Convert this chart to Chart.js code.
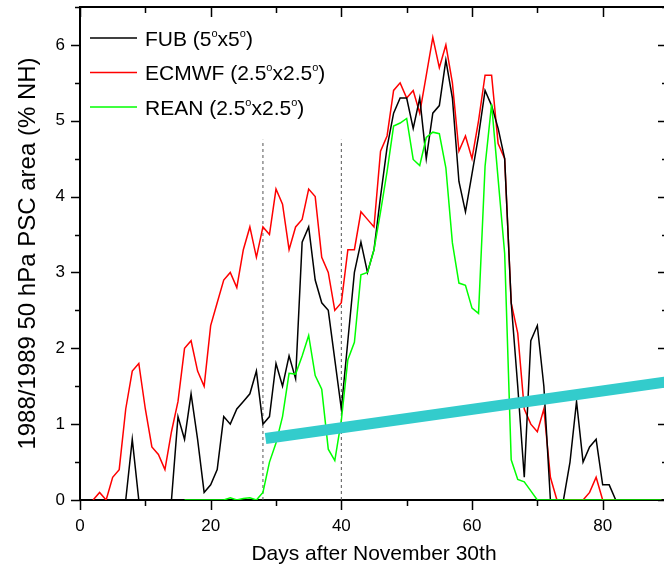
<!DOCTYPE html>
<html>
<head>
<meta charset="utf-8">
<title>1988/1989 PSC area</title>
<script src="https://cdn.jsdelivr.net/npm/chart.js@4.4.1/dist/chart.umd.min.js"></script>
<style>
  html, body { margin: 0; padding: 0; background: #fff; overflow: hidden; }
  #pscChart { display: block; }
</style>
</head>
<body>
<canvas id="pscChart" width="700" height="568"></canvas>
<script>
// days after November 30th
const days = [
  0, 1, 2, 3, 4, 5, 6, 7, 8, 9,
  10, 11, 12, 13, 14, 15, 16, 17, 18, 19,
  20, 21, 22, 23, 24, 25, 26, 27, 28, 29,
  30, 31, 32, 33, 34, 35, 36, 37, 38, 39,
  40, 41, 42, 43, 44, 45, 46, 47, 48, 49,
  50, 51, 52, 53, 54, 55, 56, 57, 58, 59,
  60, 61, 62, 63, 64, 65, 66, 67, 68, 69,
  70, 71, 72, 73, 74, 75, 76, 77, 78, 79,
  80, 81, 82, 83, 84, 85, 86, 87, 88, 89,
];

// PSC area, % NH
const fub = [
  null, null, null, null, null, null, null, 0, 0.8, 0,
  0, 0, 0, 0, 0, 1.1, 0.8, 1.4, 0.8, 0.1,
  0.2, 0.4, 1.1, 1.0, 1.2, 1.3, 1.4, 1.7, 1.0, 1.1,
  1.8, 1.5, 1.9, 1.6, 3.4, 3.6, 2.9, 2.6, 2.5, 1.85,
  1.2, 2.1, 3.0, 3.4, 3.0, 3.3, 4.0, 4.65, 5.1, 5.3,
  5.3, 4.9, 5.3, 4.5, 5.1, 5.2, 5.8, 5.3, 4.2, 3.8,
  4.3, 4.8, 5.4, 5.2, 4.9, 4.5, 2.6, 1.5, 0.3, 2.1,
  2.3, 1.5, 0, 0, 0, 0.5, 1.3, 0.5, 0.7, 0.8,
  0.2, 0.2, 0, 0, 0, 0, 0, 0, 0, 0,
];

const ecmwf = [
  null, null, 0, 0.1, 0, 0.3, 0.4, 1.2, 1.7, 1.8,
  1.2, 0.7, 0.6, 0.4, 0.9, 1.3, 2.0, 2.1, 1.7, 1.5,
  2.3, 2.6, 2.9, 3.0, 2.8, 3.3, 3.6, 3.2, 3.6, 3.5,
  4.1, 3.9, 3.3, 3.6, 3.7, 4.1, 4.0, 3.2, 3.0, 2.5,
  2.6, 3.3, 3.3, 3.8, 3.7, 3.6, 4.6, 4.8, 5.4, 5.5,
  5.3, 5.4, 5.1, 5.6, 6.1, 5.7, 6.0, 5.5, 4.6, 4.8,
  4.5, 5.0, 5.6, 5.6, 4.7, 4.5, 2.6, 2.2, 1.2, 1.0,
  0.9, 1.2, 0.3, 0, 0, 0, 0, 0, 0.1, 0.3,
  0, 0, 0, 0, 0, 0, 0, 0, 0, 0,
];

const rean = [
  null, null, null, null, null, null, null, null, null, null,
  null, null, null, null, null, null, 0, 0, 0, 0,
  0, 0, 0, 0.03, 0, 0.02, 0.03, 0, 0.1, 0.5,
  0.75, 1.1, 1.67, 1.66, 1.9, 2.17, 1.64, 1.46, 0.67, 0.52,
  1.05, 1.85, 2.08, 2.97, 3.0, 3.3, 3.8, 4.33, 4.93, 4.97,
  5.03, 4.49, 4.41, 4.78, 4.85, 4.83, 4.38, 3.39, 2.86, 2.83,
  2.53, 2.46, 4.4, 5.22, 4.23, 3.25, 0.53, 0.27, 0.24, 0.12,
  0, 0, 0, 0, 0, 0, 0, 0, 0, 0,
  0, 0, 0, 0, 0, 0, 0, 0, 0, 0,
];

// thick trend line and the two dotted markers
const trendDays = [28.4, 90];
const trendValues = [0.81, 1.56];
const markerDays = [28, 40];
const markerTop = 4.75;

// axes
const xTickValues = [0, 20, 40, 60, 80];
const yTickValues = [0, 1, 2, 3, 4, 5, 6];

// legend: text pieces, every second piece is a superscript
const legendItems = [
  { color: '#000000', parts: ['FUB (5', 'o', 'x5', 'o', ')'] },
  { color: '#ff0000', parts: ['ECMWF (2.5', 'o', 'x2.5', 'o', ')'] },
  { color: '#00ff00', parts: ['REAN (2.5', 'o', 'x2.5', 'o', ')'] },
];

const FONT = '"Liberation Sans", Arial, Helvetica, sans-serif';

function pairs(xs, ys) {
  return xs.map((x, i) => ({ x: x, y: ys[i] }));
}

function series(color, values) {
  return {
    data: pairs(days, values),
    borderColor: color,
    borderWidth: 1.5,
    pointRadius: 0,
    tension: 0,
    spanGaps: false,
  };
}

function marker(day) {
  return {
    data: [{ x: day, y: 0 }, { x: day, y: markerTop }],
    borderColor: '#555555',
    borderWidth: 1,
    borderDash: [3, 3],
    pointRadius: 0,
  };
}

// frame with major and minor ticks on all four sides
const framePlugin = {
  id: 'frame',
  beforeDatasetsDraw(chart) {
    const { ctx, chartArea: a } = chart;
    const xs = chart.scales.x;
    const ys = chart.scales.y;
    ctx.save();
    ctx.strokeStyle = '#000';
    ctx.lineWidth = 2;
    ctx.strokeRect(a.left, a.top, a.right - a.left, a.bottom - a.top);

    ctx.lineWidth = 1.5;
    ctx.beginPath();
    for (let v = 0; v <= 90; v += 10) {
      const px = Math.round(xs.getPixelForValue(v)) + 0.5;
      const len = v % 20 === 0 ? 10 : 6;
      ctx.moveTo(px, a.bottom);
      ctx.lineTo(px, a.bottom + len);
      ctx.moveTo(px, a.top);
      ctx.lineTo(px, a.top + len);
    }
    for (let v = 0; v <= 6.5; v += 0.5) {
      const py = Math.round(ys.getPixelForValue(v)) + 0.5;
      const isMajor = v % 1 === 0;
      ctx.moveTo(a.left, py);
      ctx.lineTo(a.left - (isMajor ? 9 : 5), py);
      ctx.moveTo(a.right, py);
      ctx.lineTo(a.right - (isMajor ? 10 : 6), py);
    }
    ctx.stroke();
    ctx.restore();
  },
};

const legendPlugin = {
  id: 'supLegend',
  afterDatasetsDraw(chart) {
    const { ctx } = chart;
    ctx.save();
    legendItems.forEach((item, i) => {
      const y = 38 + i * 34.5;
      ctx.strokeStyle = item.color;
      ctx.lineWidth = 1.5;
      ctx.beginPath();
      ctx.moveTo(90, y);
      ctx.lineTo(137, y);
      ctx.stroke();

      ctx.fillStyle = '#000';
      ctx.textBaseline = 'alphabetic';
      ctx.textAlign = 'left';
      let x = 145;
      item.parts.forEach((part, j) => {
        const sup = j % 2 === 1;
        ctx.font = (sup ? '11px ' : '21px ') + FONT;
        ctx.fillText(part, x, sup ? y - 1.5 : y + 7.5);
        x += ctx.measureText(part).width;
      });
    });
    ctx.restore();
  },
};

const pscConfig = {
  type: 'line',
  data: {
    datasets: [
      {
        data: pairs(trendDays, trendValues),
        borderColor: '#33cccc',
        borderWidth: 11,
        borderCapStyle: 'butt',
        pointRadius: 0,
      },
      series('#00ff00', rean),
      series('#000000', fub),
      series('#ff0000', ecmwf),
      marker(markerDays[0]),
      marker(markerDays[1]),
    ],
  },
  options: {
    responsive: false,
    animation: false,
    devicePixelRatio: 1,
    layout: {
      padding: { left: 0, right: 32, top: 7, bottom: 0 },
    },
    plugins: {
      legend: { display: false },
      tooltip: { enabled: false },
    },
    scales: {
      x: {
        type: 'linear',
        min: 0,
        max: 90,
        afterBuildTicks: (scale) => {
          scale.ticks = xTickValues.map((v) => ({ value: v }));
        },
        afterFit: (scale) => {
          scale.height = 68;
          scale.paddingLeft = 0;
          scale.paddingRight = 0;
        },
        ticks: {
          autoSkip: false,
          maxRotation: 0,
          padding: 16,
          color: '#000',
          font: { family: FONT, size: 17 },
        },
        grid: { display: false, drawTicks: false },
        border: { display: false },
        title: {
          display: true,
          text: 'Days after November 30th',
          color: '#000',
          font: { family: FONT, size: 21 },
          padding: { top: 0, bottom: 1 },
        },
      },
      y: {
        min: 0,
        max: 6.5,
        afterBuildTicks: (scale) => {
          scale.ticks = yTickValues.map((v) => ({ value: v }));
        },
        afterFit: (scale) => {
          scale.width = 80;
          scale.paddingTop = 0;
          scale.paddingBottom = 0;
        },
        ticks: {
          autoSkip: false,
          padding: 15,
          color: '#000',
          font: { family: FONT, size: 17 },
        },
        grid: { display: false, drawTicks: false },
        border: { display: false },
        title: {
          display: true,
          text: '1988/1989 50 hPa PSC area (% NH)',
          color: '#000',
          font: { family: FONT, size: 24 },
          padding: { top: 14, bottom: 0 },
        },
      },
    },
  },
  plugins: [framePlugin, legendPlugin],
};

const pscChart = new Chart(document.getElementById('pscChart'), pscConfig);
</script>
</body>
</html>
